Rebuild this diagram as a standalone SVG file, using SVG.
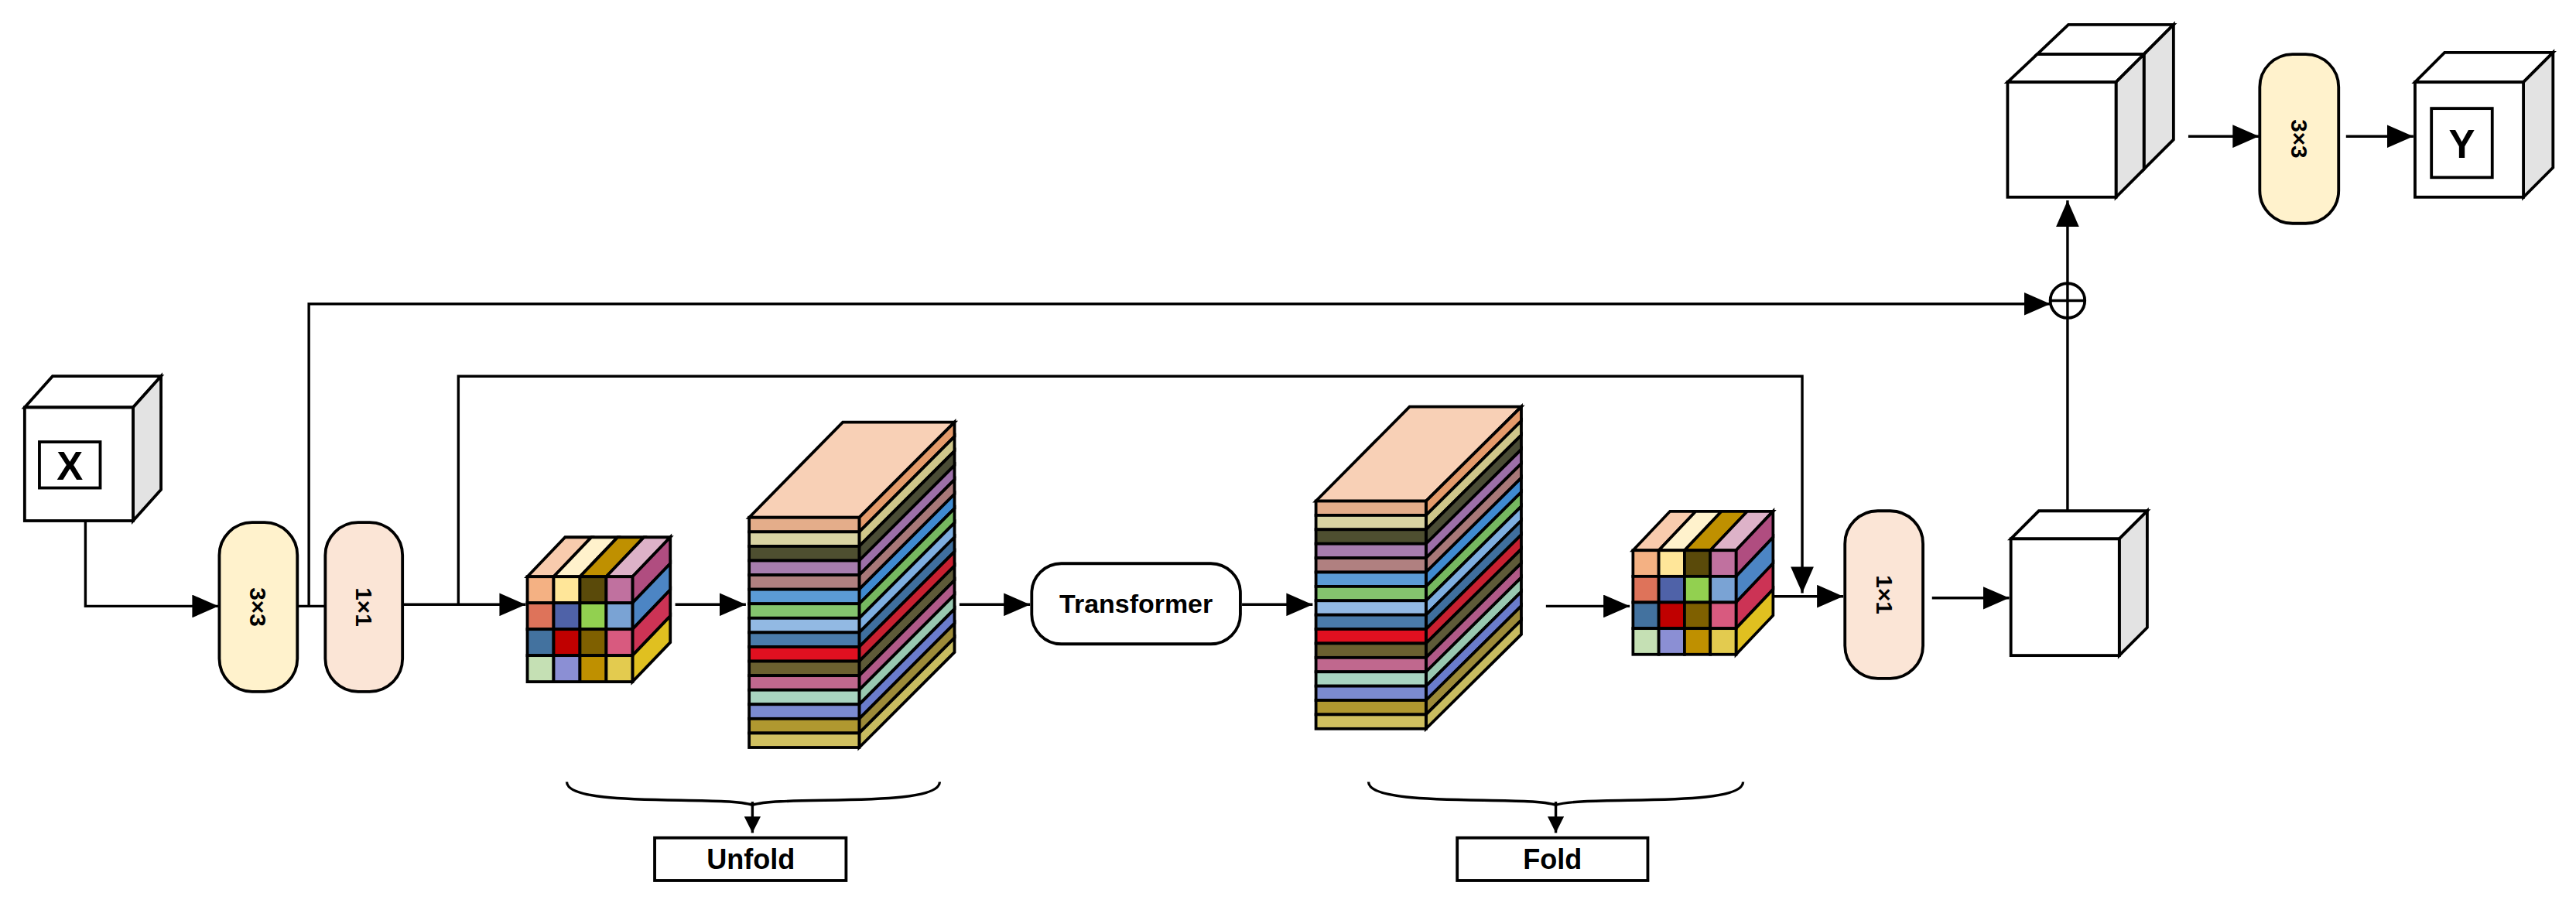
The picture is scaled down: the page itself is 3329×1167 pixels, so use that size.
<svg xmlns="http://www.w3.org/2000/svg" xmlns:xlink="http://www.w3.org/1999/xlink" width="3329" height="1167" viewBox="0 0 3329 1167">
<style>
.k{stroke:#000;stroke-width:1.8;stroke-linejoin:miter}
.w{fill:#fff}.g{fill:#e3e3e3}
.ln{fill:none;stroke:#000;stroke-width:1.6}
.t{font-family:"Liberation Sans",Arial,sans-serif;font-weight:bold;fill:#000}
</style>
<defs>
<marker id="ah" markerUnits="userSpaceOnUse" markerWidth="16" markerHeight="14" viewBox="0 0 16 14" refX="16" refY="7" orient="auto"><path d="M0,0 L16,7 L0,14 z" fill="#000"/></marker>
<marker id="as" markerUnits="userSpaceOnUse" markerWidth="10" markerHeight="10" viewBox="0 0 10 10" refX="10" refY="5" orient="auto"><path d="M0,0 L10,5 L0,10 z" fill="#000"/></marker>
<g id="cube">
<g class="k">
<polygon points="0,0 23,-24 39,-24 16,0" fill="#F8CBAD"/>
<polygon points="16,0 39,-24 55,-24 32,0" fill="#FFF2CC"/>
<polygon points="32,0 55,-24 71,-24 48,0" fill="#BF9000"/>
<polygon points="48,0 71,-24 87,-24 64,0" fill="#DDB2C8"/>
<polygon points="64,0 87,-24 87,-8 64,16" fill="#B04D80"/>
<polygon points="64,16 87,-8 87,8 64,32" fill="#4C85C4"/>
<polygon points="64,32 87,8 87,24 64,48" fill="#CC3355"/>
<polygon points="64,48 87,24 87,40 64,64" fill="#E0C020"/>
<rect x="0" y="0" width="16" height="16" fill="#F4B183"/><rect x="16" y="0" width="16" height="16" fill="#FFE699"/><rect x="32" y="0" width="16" height="16" fill="#5A4A0A"/><rect x="48" y="0" width="16" height="16" fill="#C0719F"/>
<rect x="0" y="16" width="16" height="16" fill="#DE735A"/><rect x="16" y="16" width="16" height="16" fill="#4F62A8"/><rect x="32" y="16" width="16" height="16" fill="#92D050"/><rect x="48" y="16" width="16" height="16" fill="#7AA3D4"/>
<rect x="0" y="32" width="16" height="16" fill="#43729F"/><rect x="16" y="32" width="16" height="16" fill="#C00000"/><rect x="32" y="32" width="16" height="16" fill="#7F6000"/><rect x="48" y="32" width="16" height="16" fill="#D85A7F"/>
<rect x="0" y="48" width="16" height="16" fill="#C5E0B4"/><rect x="16" y="48" width="16" height="16" fill="#8B8FD4"/><rect x="32" y="48" width="16" height="16" fill="#BF9000"/><rect x="48" y="48" width="16" height="16" fill="#E3CB4F"/>
</g>
</g>
<g id="stack">
<g class="k">
<polygon points="0,0 57,-58 125,-58 67,0" fill="#F8D0B6"/>
<polygon points="67,0 125,-58 125,-49.25 67,8.75" fill="#E49A6A"/>
<polygon points="67,8.75 125,-49.25 125,-40.5 67,17.5" fill="#CFC68A"/>
<polygon points="67,17.5 125,-40.5 125,-31.75 67,26.25" fill="#4A4C35"/>
<polygon points="67,26.25 125,-31.75 125,-23 67,35" fill="#9C6FA8"/>
<polygon points="67,35 125,-23 125,-14.25 67,43.75" fill="#A87878"/>
<polygon points="67,43.75 125,-14.25 125,-5.5 67,52.5" fill="#3F8AD0"/>
<polygon points="67,52.5 125,-5.5 125,3.25 67,61.25" fill="#76B860"/>
<polygon points="67,61.25 125,3.25 125,12 67,70" fill="#7EAEE0"/>
<polygon points="67,70 125,12 125,20.75 67,78.75" fill="#3F6F9E"/>
<polygon points="67,78.75 125,20.75 125,29.5 67,87.5" fill="#C82030"/>
<polygon points="67,87.5 125,29.5 125,38.25 67,96.25" fill="#5E5A38"/>
<polygon points="67,96.25 125,38.25 125,47 67,105" fill="#B05A88"/>
<polygon points="67,105 125,47 125,55.75 67,113.75" fill="#98C8B0"/>
<polygon points="67,113.75 125,55.75 125,64.5 67,122.5" fill="#6A7CCC"/>
<polygon points="67,122.5 125,64.5 125,73.25 67,131.25" fill="#9C8A38"/>
<polygon points="67,131.25 125,73.25 125,82 67,140" fill="#C8BC60"/>
<rect x="0" y="0" width="67" height="8.75" fill="#E4AD8A"/>
<rect x="0" y="8.75" width="67" height="8.75" fill="#D9D3A2"/>
<rect x="0" y="17.5" width="67" height="8.75" fill="#4E4F30"/>
<rect x="0" y="26.25" width="67" height="8.75" fill="#A77DAE"/>
<rect x="0" y="35" width="67" height="8.75" fill="#B08080"/>
<rect x="0" y="43.75" width="67" height="8.75" fill="#5B9BD5"/>
<rect x="0" y="52.5" width="67" height="8.75" fill="#84C46E"/>
<rect x="0" y="61.25" width="67" height="8.75" fill="#92B9E3"/>
<rect x="0" y="70" width="67" height="8.75" fill="#4A7BAA"/>
<rect x="0" y="78.75" width="67" height="8.75" fill="#E01020"/>
<rect x="0" y="87.5" width="67" height="8.75" fill="#6B6030"/>
<rect x="0" y="96.25" width="67" height="8.75" fill="#C0688E"/>
<rect x="0" y="105" width="67" height="8.75" fill="#A8D4C0"/>
<rect x="0" y="113.75" width="67" height="8.75" fill="#7B8BD0"/>
<rect x="0" y="122.5" width="67" height="8.75" fill="#B09830"/>
<rect x="0" y="131.25" width="67" height="8.75" fill="#D0C060"/>
</g>
</g>
</defs>
<rect width="3329" height="1167" fill="#fff"/>
<g transform="scale(2.1231)">
<g id="nodeX">
<polygon class="k w" points="15,248 32,229 98,229 81,248"/>
<polygon class="k g" points="81,248 98,229 98,298 81,317"/>
<rect class="k w" x="15" y="248" width="66" height="69"/>
<rect class="k w" x="24" y="269" width="37" height="28"/>
<text class="t" x="42.5" y="292" font-size="24" text-anchor="middle">X</text>
</g>
<g id="conv3a">
<rect class="k" x="133.5" y="318" width="47.5" height="103" rx="20" fill="#FFF2CC"/>
<text class="t" font-size="14" text-anchor="middle" transform="translate(157,369.5) rotate(90)" dy="5">3×3</text>
</g>
<g id="conv1a">
<rect class="k" x="198" y="318" width="47" height="103" rx="20" fill="#FBE5D6"/>
<text class="t" font-size="14" text-anchor="middle" transform="translate(221.5,369.5) rotate(90)" dy="5">1×1</text>
</g>
<g id="cube1"><use href="#cube" transform="translate(321,351)"/></g>
<g id="stack1"><use href="#stack" transform="translate(456,315)"/></g>
<g id="transformer">
<rect class="k w" x="628" y="343" width="127" height="49" rx="18"/>
<text class="t" x="691.5" y="373" font-size="16" text-anchor="middle" font-weight="normal">Transformer</text>
</g>
<g id="stack2"><use href="#stack" transform="translate(801,305) scale(1,0.99)"/></g>
<g id="cube2"><use href="#cube" transform="translate(994,335) scale(0.98,0.99)"/></g>
<g id="conv1b">
<rect class="k" x="1123" y="311" width="47.5" height="102" rx="20" fill="#FBE5D6"/>
<text class="t" font-size="14" text-anchor="middle" transform="translate(1147,362) rotate(90)" dy="5">1×1</text>
</g>
<g id="cubeW">
<polygon class="k w" points="1224,328 1241,311 1307,311 1290,328"/>
<polygon class="k g" points="1290,328 1307,311 1307,382 1290,399"/>
<rect class="k w" x="1224" y="328" width="66" height="71"/>
</g>
<g id="add">
<circle class="k w" cx="1258.5" cy="183" r="10.5"/>
<path class="ln" d="M1248,183 H1269 M1258.5,172.5 V193.5"/>
</g>
<g id="concat">
<polygon class="k w" points="1240,33 1259,15 1323,15 1305,33"/>
<polygon class="k g" points="1305,33 1323,15 1323,85 1305,103"/>
<polygon class="k w" points="1222,50 1240,33 1305,33 1288,50"/>
<polygon class="k g" points="1288,50 1305,33 1305,103 1288,120"/>
<rect class="k w" x="1222" y="50" width="66" height="70"/>
</g>
<g id="conv3b">
<rect class="k" x="1375.5" y="33" width="48" height="103" rx="20" fill="#FFF2CC"/>
<text class="t" font-size="14" text-anchor="middle" transform="translate(1399.5,84.5) rotate(90)" dy="5">3×3</text>
</g>
<g id="nodeY">
<polygon class="k w" points="1470,50 1488,32 1554,32 1536,50"/>
<polygon class="k g" points="1536,50 1554,32 1554,102 1536,120"/>
<rect class="k w" x="1470" y="50" width="66" height="70"/>
<rect class="k w" x="1480" y="66" width="37" height="42"/>
<text class="t" x="1498.5" y="96" font-size="24" text-anchor="middle">Y</text>
</g>
<g id="unfold">
<rect class="k w" x="398.5" y="510" width="116.5" height="26"/>
<text class="t" x="457" y="529" font-size="17" text-anchor="middle">Unfold</text>
</g>
<g id="fold">
<rect class="k w" x="887" y="510" width="116" height="26"/>
<text class="t" x="945" y="529" font-size="17" text-anchor="middle">Fold</text>
</g>
<g id="connectors">
<path class="ln" d="M52,317 V369 H133" marker-end="url(#ah)"/>
<path class="ln" d="M181,369 H198"/>
<path class="ln" d="M188,369 V185 H1248" marker-end="url(#ah)"/>
<path class="ln" d="M245,368 H320" marker-end="url(#ah)"/>
<path class="ln" d="M279,368 V229 H1097 V361" marker-end="url(#ah)"/>
<path class="ln" d="M411,368 H454" marker-end="url(#ah)"/>
<path class="ln" d="M584,368 H627" marker-end="url(#ah)"/>
<path class="ln" d="M756,368 H799" marker-end="url(#ah)"/>
<path class="ln" d="M941,369 H992" marker-end="url(#ah)"/>
<path class="ln" d="M1080,363 H1122" marker-end="url(#ah)"/>
<path class="ln" d="M1176,364 H1223" marker-end="url(#ah)"/>
<path class="ln" d="M1258.5,311 V193.5"/>
<path class="ln" d="M1258.5,172.5 V122" marker-end="url(#ah)"/>
<path class="ln" d="M1332,83 H1375" marker-end="url(#ah)"/>
<path class="ln" d="M1428,83 H1469" marker-end="url(#ah)"/>
<path class="ln" d="M345,476 C345,492 440,484 458,490 C476,484 572,492 572,476"/>
<path class="ln" d="M458,488 V507" marker-end="url(#as)"/>
<path class="ln" d="M833,476 C833,492 929,484 947,490 C965,484 1061,492 1061,476"/>
<path class="ln" d="M947,488 V507" marker-end="url(#as)"/>
</g>
</g>
</svg>
